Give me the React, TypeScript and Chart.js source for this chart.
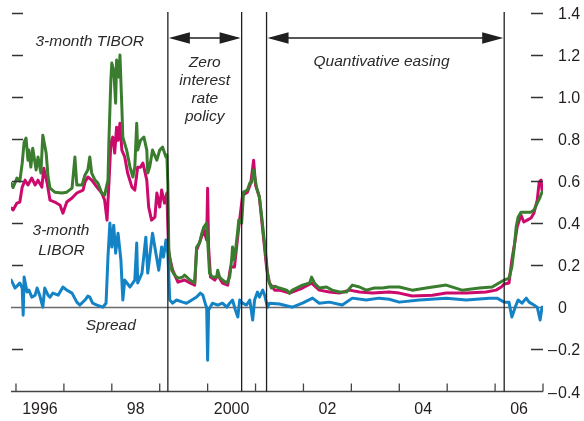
import React, { useEffect, useRef } from 'react';
import { Chart, registerables } from 'chart.js';

Chart.register(...registerables);

// [decimal year, percent]
const tiborSeries: [number, number][] = [
  [1995.90, 0.59], [1995.94, 0.57], [1996.02, 0.615], [1996.08, 0.60], [1996.13, 0.686],
  [1996.17, 0.786], [1996.21, 0.805], [1996.25, 0.70], [1996.27, 0.748], [1996.31, 0.667],
  [1996.35, 0.757], [1996.42, 0.653], [1996.46, 0.715], [1996.52, 0.639], [1996.56, 0.819],
  [1996.63, 0.734], [1996.67, 0.62], [1996.71, 0.567], [1996.81, 0.548], [1996.96, 0.544],
  [1997.06, 0.548], [1997.17, 0.567], [1997.23, 0.715], [1997.27, 0.582], [1997.38, 0.582],
  [1997.44, 0.63], [1997.50, 0.653], [1997.54, 0.715], [1997.58, 0.639], [1997.65, 0.605],
  [1997.71, 0.591], [1997.79, 0.544], [1997.85, 0.534], [1997.92, 0.605], [1997.94, 0.795],
  [1997.98, 1.08], [1998.00, 1.162], [1998.04, 1.128], [1998.08, 0.971], [1998.10, 1.176],
  [1998.15, 1.095], [1998.17, 1.20], [1998.21, 0.952], [1998.23, 0.81], [1998.31, 0.748],
  [1998.38, 0.667], [1998.44, 0.62], [1998.48, 0.667], [1998.52, 0.876], [1998.54, 0.748],
  [1998.60, 0.795], [1998.67, 0.81], [1998.73, 0.748], [1998.75, 0.639], [1998.79, 0.667],
  [1998.85, 0.748], [1998.94, 0.70], [1999.00, 0.748], [1999.06, 0.762], [1999.13, 0.715],
  [1999.15, 0.724], [1999.17, 0.582], [1999.19, 0.272], [1999.25, 0.177], [1999.31, 0.154],
  [1999.38, 0.139], [1999.48, 0.144], [1999.52, 0.154], [1999.63, 0.13], [1999.73, 0.116],
  [1999.77, 0.287], [1999.83, 0.306], [1999.88, 0.353], [1999.92, 0.382], [1999.98, 0.401],
  [2000.00, 0.32], [2000.04, 0.163], [2000.10, 0.144], [2000.19, 0.144], [2000.21, 0.177],
  [2000.25, 0.144], [2000.31, 0.13], [2000.40, 0.116], [2000.46, 0.144], [2000.50, 0.225],
  [2000.52, 0.287], [2000.56, 0.225], [2000.63, 0.368], [2000.65, 0.415], [2000.71, 0.401],
  [2000.75, 0.548], [2000.83, 0.558], [2000.88, 0.591], [2000.92, 0.596], [2000.96, 0.653],
  [2001.02, 0.572], [2001.08, 0.525], [2001.13, 0.429], [2001.19, 0.296], [2001.23, 0.215],
  [2001.25, 0.154], [2001.29, 0.116], [2001.33, 0.092], [2001.40, 0.101], [2001.50, 0.092],
  [2001.65, 0.082], [2001.71, 0.068], [2001.77, 0.082], [2001.98, 0.106], [2002.13, 0.116],
  [2002.17, 0.144], [2002.23, 0.116], [2002.33, 0.092], [2002.48, 0.097], [2002.60, 0.082],
  [2002.75, 0.073], [2002.90, 0.073], [2003.02, 0.106], [2003.17, 0.097], [2003.31, 0.082],
  [2003.48, 0.092], [2003.65, 0.092], [2003.79, 0.097], [2004.00, 0.097], [2004.27, 0.082],
  [2004.56, 0.092], [2004.98, 0.106], [2005.31, 0.082], [2005.67, 0.092], [2005.94, 0.097],
  [2006.08, 0.116], [2006.19, 0.13], [2006.29, 0.139], [2006.35, 0.192], [2006.40, 0.287],
  [2006.44, 0.382], [2006.48, 0.429], [2006.54, 0.453], [2006.65, 0.453], [2006.75, 0.453],
  [2006.81, 0.463], [2006.88, 0.496], [2006.94, 0.525], [2006.98, 0.548],
];

const liborSeries: [number, number][] = [
  [1995.90, 0.472], [1995.94, 0.463], [1996.02, 0.496], [1996.08, 0.501], [1996.13, 0.572],
  [1996.19, 0.605], [1996.25, 0.582], [1996.33, 0.615], [1996.40, 0.582], [1996.46, 0.605],
  [1996.54, 0.572], [1996.58, 0.662], [1996.65, 0.591], [1996.71, 0.51], [1996.81, 0.501],
  [1996.92, 0.486], [1996.98, 0.448], [1997.06, 0.501], [1997.17, 0.52], [1997.27, 0.544],
  [1997.40, 0.558], [1997.44, 0.596], [1997.50, 0.62], [1997.58, 0.605], [1997.69, 0.572],
  [1997.79, 0.544], [1997.85, 0.51], [1997.90, 0.415], [1997.94, 0.591], [1997.98, 0.781],
  [1998.02, 0.81], [1998.06, 0.734], [1998.10, 0.857], [1998.13, 0.795], [1998.17, 0.876],
  [1998.21, 0.748], [1998.27, 0.715], [1998.33, 0.639], [1998.42, 0.572], [1998.48, 0.558],
  [1998.54, 0.667], [1998.60, 0.667], [1998.65, 0.686], [1998.73, 0.605], [1998.77, 0.477],
  [1998.83, 0.415], [1998.90, 0.429], [1998.94, 0.544], [1999.00, 0.477], [1999.04, 0.558],
  [1999.10, 0.496], [1999.15, 0.544], [1999.17, 0.382], [1999.19, 0.249], [1999.23, 0.215],
  [1999.27, 0.177], [1999.38, 0.12], [1999.52, 0.13], [1999.63, 0.116], [1999.73, 0.106],
  [1999.77, 0.272], [1999.85, 0.32], [1999.92, 0.368], [1999.98, 0.32], [2000.00, 0.567],
  [2000.02, 0.287], [2000.06, 0.144], [2000.15, 0.13], [2000.21, 0.154], [2000.31, 0.116],
  [2000.42, 0.106], [2000.48, 0.192], [2000.56, 0.192], [2000.65, 0.382], [2000.73, 0.534],
  [2000.83, 0.548], [2000.90, 0.591], [2000.96, 0.70], [2001.00, 0.582], [2001.08, 0.525],
  [2001.15, 0.368], [2001.23, 0.192], [2001.29, 0.116], [2001.40, 0.082], [2001.50, 0.082],
  [2001.71, 0.068], [2001.98, 0.092], [2002.17, 0.115], [2002.33, 0.082], [2002.54, 0.073],
  [2002.75, 0.068], [2002.96, 0.082], [2003.17, 0.073], [2003.44, 0.068], [2003.79, 0.073],
  [2004.00, 0.068], [2004.27, 0.054], [2004.69, 0.058], [2004.98, 0.068], [2005.40, 0.068],
  [2005.81, 0.073], [2006.02, 0.082], [2006.13, 0.097], [2006.19, 0.111], [2006.29, 0.116],
  [2006.35, 0.225], [2006.42, 0.32], [2006.46, 0.382], [2006.54, 0.439], [2006.60, 0.406],
  [2006.67, 0.415], [2006.75, 0.425], [2006.81, 0.448], [2006.88, 0.51], [2006.92, 0.596],
  [2006.96, 0.605], [2006.98, 0.558],
];

const spreadSeries: [number, number][] = [
  [1995.90, 0.13], [1995.98, 0.092], [1996.04, 0.106], [1996.08, 0.116], [1996.13, 0.092],
  [1996.15, -0.037], [1996.17, 0.144], [1996.23, 0.073], [1996.27, 0.082], [1996.33, 0.049],
  [1996.40, 0.058], [1996.44, 0.092], [1996.50, 0.054], [1996.56, 0.001], [1996.60, 0.092],
  [1996.67, 0.058], [1996.71, 0.049], [1996.77, 0.068], [1996.88, 0.058], [1996.98, 0.097],
  [1997.06, 0.082], [1997.17, 0.068], [1997.27, 0.025], [1997.33, 0.011], [1997.44, 0.035],
  [1997.50, 0.054], [1997.54, 0.049], [1997.60, 0.02], [1997.69, 0.011], [1997.75, 0.006],
  [1997.81, 0.001], [1997.88, 0.02], [1997.92, 0.239], [1997.96, 0.401], [1998.00, 0.287],
  [1998.04, 0.391], [1998.08, 0.258], [1998.13, 0.353], [1998.19, 0.225], [1998.23, 0.035],
  [1998.27, 0.13], [1998.38, 0.097], [1998.48, 0.13], [1998.52, 0.306], [1998.54, 0.116],
  [1998.63, 0.163], [1998.71, 0.334], [1998.75, 0.163], [1998.79, 0.239], [1998.85, 0.353],
  [1998.92, 0.258], [1998.98, 0.177], [1999.04, 0.287], [1999.08, 0.239], [1999.13, 0.32],
  [1999.17, 0.258], [1999.21, 0.035], [1999.27, 0.02], [1999.35, 0.035], [1999.48, 0.025],
  [1999.56, 0.02], [1999.67, 0.035], [1999.77, 0.049], [1999.85, 0.068], [1999.90, 0.058],
  [1999.96, 0.011], [1999.98, 0.001], [2000.00, -0.251], [2000.02, -0.013], [2000.10, 0.02],
  [2000.21, 0.011], [2000.31, 0.02], [2000.40, 0.001], [2000.46, 0.02], [2000.52, 0.035],
  [2000.58, -0.013], [2000.63, -0.046], [2000.67, 0.035], [2000.73, 0.02], [2000.81, 0.011],
  [2000.88, 0.035], [2000.94, -0.06], [2000.98, 0.035], [2001.04, 0.073], [2001.08, 0.049],
  [2001.15, 0.082], [2001.19, 0.058], [2001.25, 0.0], [2001.29, 0.02], [2001.50, 0.016],
  [2001.77, 0.001], [2001.98, 0.02], [2002.19, 0.044], [2002.33, 0.02], [2002.54, 0.025],
  [2002.81, 0.011], [2003.02, 0.044], [2003.31, 0.035], [2003.58, 0.044], [2003.79, 0.039],
  [2004.00, 0.025], [2004.42, 0.035], [2004.98, 0.044], [2005.40, 0.035], [2005.88, 0.044],
  [2006.04, 0.044], [2006.19, 0.025], [2006.29, 0.025], [2006.35, -0.046], [2006.42, 0.001],
  [2006.48, 0.035], [2006.56, 0.02], [2006.65, 0.044], [2006.71, 0.025], [2006.81, 0.011],
  [2006.88, 0.001], [2006.94, -0.06], [2006.98, 0.001],
];

const yTickValues = [1.4, 1.2, 1.0, 0.8, 0.6, 0.4, 0.2, 0, -0.2, -0.4];
const yearTickValues = [1996, 1997, 1998, 1999, 2000, 2001, 2002, 2003, 2004, 2005, 2006, 2007];
const xLabelDates = [1996.5, 1998.5, 2000.5, 2002.5, 2004.5, 2006.5];
const xLabels = ['1996', '98', '2000', '02', '04', '06'];
const policyDates = [1999.17, 2000.71, 2001.23, 2006.19];
const arrowLevel = 1.281;

type Note = { text: string; x: number; y: number };
const notes: Note[] = [
  { text: '3-month TIBOR', x: 1997.54, y: 1.243 },
  { text: 'Zero', x: 1999.94, y: 1.143 },
  { text: 'interest', x: 1999.94, y: 1.057 },
  { text: 'rate', x: 1999.94, y: 0.971 },
  { text: 'policy', x: 1999.94, y: 0.886 },
  { text: 'Quantivative easing', x: 2003.63, y: 1.146 },
  { text: '3-month', x: 1996.94, y: 0.344 },
  { text: 'LIBOR', x: 1996.95, y: 0.249 },
  { text: 'Spread', x: 1997.98, y: -0.108 },
];

const X_MIN = 1995.896;
const X_MAX = 2007.0;
const TEXT = '#231f20';
const SANS = '"Liberation Sans", Arial, Helvetica, sans-serif';

const toPts = (s: [number, number][]) => s.map(([x, y]) => ({ x, y }));

const decor = {
  id: 'decor',
  beforeDatasetsDraw(chart: any) {
    const { ctx, chartArea: ca, scales } = chart;
    const y0 = scales.y.getPixelForValue(0);
    ctx.save();
    ctx.strokeStyle = '#6a6a6a';
    ctx.lineWidth = 1.5;
    ctx.beginPath();
    ctx.moveTo(ca.left, y0);
    ctx.lineTo(ca.right, y0);
    ctx.stroke();
    ctx.restore();
  },
  afterDatasetsDraw(chart: any) {
    const { ctx, chartArea: ca, scales } = chart;
    const xs = scales.x;
    const ys = scales.y;
    ctx.save();
    ctx.strokeStyle = '#333';
    ctx.lineWidth = 1.3;
    yTickValues.forEach((v) => {
      if (v === 0 || v === -0.4) return;
      const py = Math.round(ys.getPixelForValue(v)) + 0.5;
      ctx.beginPath();
      ctx.moveTo(ca.left + 1, py);
      ctx.lineTo(ca.left + 12, py);
      ctx.moveTo(ca.right - 12, py);
      ctx.lineTo(ca.right, py);
      ctx.stroke();
    });
    const by = ca.bottom;
    ctx.strokeStyle = '#444';
    ctx.lineWidth = 1.5;
    ctx.beginPath();
    ctx.moveTo(ca.left, by);
    ctx.lineTo(ca.right, by);
    ctx.stroke();
    ctx.lineWidth = 1.3;
    yearTickValues.forEach((yr) => {
      const px = xs.getPixelForValue(yr);
      ctx.beginPath();
      ctx.moveTo(px, by);
      ctx.lineTo(px, by - 8);
      ctx.stroke();
    });
    ctx.strokeStyle = '#1f1f1f';
    ctx.lineWidth = 1.3;
    policyDates.forEach((d) => {
      const px = xs.getPixelForValue(d);
      ctx.beginPath();
      ctx.moveTo(px, ca.top - 1);
      ctx.lineTo(px, by);
      ctx.stroke();
    });
    const ay = ys.getPixelForValue(arrowLevel);
    const arrow = (x1: number, x2: number) => {
      const hl = 21;
      const hh = 5.8;
      ctx.strokeStyle = '#1f1f1f';
      ctx.fillStyle = '#1f1f1f';
      ctx.lineWidth = 1.5;
      ctx.beginPath();
      ctx.moveTo(x1 + 4, ay);
      ctx.lineTo(x2 - 4, ay);
      ctx.stroke();
      ctx.beginPath();
      ctx.moveTo(x1 + 1, ay);
      ctx.lineTo(x1 + 1 + hl, ay - hh);
      ctx.lineTo(x1 + 1 + hl, ay + hh);
      ctx.closePath();
      ctx.fill();
      ctx.beginPath();
      ctx.moveTo(x2 - 1, ay);
      ctx.lineTo(x2 - 1 - hl, ay - hh);
      ctx.lineTo(x2 - 1 - hl, ay + hh);
      ctx.closePath();
      ctx.fill();
    };
    const p = policyDates.map((d) => xs.getPixelForValue(d));
    arrow(p[0], p[1]);
    arrow(p[2], p[3]);
    ctx.fillStyle = TEXT;
    ctx.font = `16px ${SANS}`;
    ctx.textBaseline = 'alphabetic';
    yTickValues.forEach((v) => {
      const py = ys.getPixelForValue(v) + 6;
      const lx = ca.right + 15;
      const s = v === 0 ? '0' : Math.abs(v).toFixed(1);
      ctx.textAlign = 'left';
      ctx.fillText(s, lx, py);
      if (v < 0) {
        ctx.textAlign = 'right';
        ctx.fillText('\u2013', lx - 1, py);
      }
    });
    ctx.textAlign = 'center';
    xLabelDates.forEach((d, i) => {
      ctx.fillText(xLabels[i], xs.getPixelForValue(d), by + 22);
    });
    ctx.font = `italic 15.5px ${SANS}`;
    ctx.fillStyle = '#2a2a2a';
    notes.forEach((n) => {
      ctx.fillText(n.text, xs.getPixelForValue(n.x), ys.getPixelForValue(n.y));
    });
    ctx.restore();
  },
};

export default function App() {
  const ref = useRef<HTMLCanvasElement | null>(null);
  useEffect(() => {
    if (!ref.current) return;
    const common = {
      borderWidth: 3,
      pointRadius: 0,
      tension: 0,
      borderJoinStyle: 'round' as const,
      borderCapStyle: 'round' as const,
      fill: false,
    };
    const chart = new Chart(ref.current, {
      type: 'line',
      data: {
        datasets: [
          { ...common, label: '3-month TIBOR', data: toPts(tiborSeries), borderColor: '#3b7d2f' },
          { ...common, label: '3-month LIBOR', data: toPts(liborSeries), borderColor: '#cc0a6c' },
          { ...common, label: 'Spread', data: toPts(spreadSeries), borderColor: '#1483c6' },
        ],
      },
      options: {
        animation: false,
        responsive: true,
        maintainAspectRatio: false,
        layout: { padding: { left: 11, top: 13, right: 41, bottom: 29.5 } },
        plugins: { legend: { display: false }, tooltip: { enabled: false } },
        scales: {
          x: { type: 'linear', min: X_MIN, max: X_MAX, display: false },
          y: { type: 'linear', min: -0.4, max: 1.4, display: false },
        },
      },
      plugins: [decor],
    });
    return () => chart.destroy();
  }, []);
  return (
    <div style={{ position: 'absolute', left: 0, top: 0, width: 584, height: 421, background: '#fff' }}>
      <canvas ref={ref} />
    </div>
  );
}
